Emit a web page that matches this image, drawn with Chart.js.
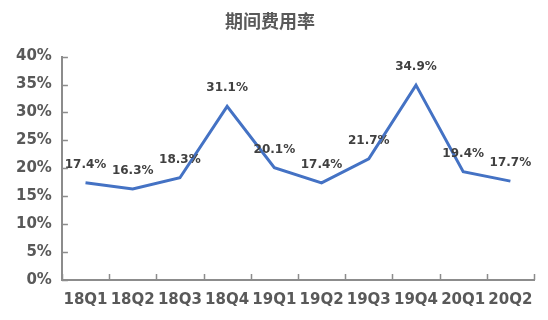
<!DOCTYPE html>
<html>
<head>
<meta charset="utf-8">
<script src="https://cdn.jsdelivr.net/npm/chart.js@4/dist/chart.umd.min.js"></script>
<style>
  html, body { margin: 0; padding: 0; background: #fff; }
  #wrap { width: 548px; height: 320px; }
</style>
</head>
<body>
<div id="wrap"><canvas id="myChart"></canvas></div>
<script>
const quarters = ['18Q1', '18Q2', '18Q3', '18Q4', '19Q1', '19Q2', '19Q3', '19Q4', '20Q1', '20Q2'];
const expenseRate = [17.4, 16.3, 18.3, 31.1, 20.1, 17.4, 21.7, 34.9, 19.4, 17.7];
const yTicks = [0, 5, 10, 15, 20, 25, 30, 35, 40];

const axisColor = '#8c8c8c';
const textColor = '#595959';

// labels above each point
const valueLabels = {
  id: 'valueLabels',
  afterDatasetsDraw(chart) {
    const c = chart.ctx;
    const meta = chart.getDatasetMeta(0);
    c.save();
    c.font = 'bold 12px "DejaVu Sans", sans-serif';
    c.fillStyle = '#404040';
    c.textAlign = 'center';
    c.textBaseline = 'middle';
    meta.data.forEach((pt, i) => {
      c.fillText(expenseRate[i].toFixed(1) + '%', pt.x, pt.y - 18);
    });
    c.restore();
  }
};

// inward tick marks like the original
const innerTicks = {
  id: 'innerTicks',
  afterDraw(chart) {
    const c = chart.ctx;
    const y = chart.scales.y;
    const a = chart.chartArea;
    c.save();
    c.strokeStyle = axisColor;
    c.lineWidth = 1.5;
    c.beginPath();
    y.ticks.forEach((t) => {
      const py = Math.round(y.getPixelForValue(t.value)) + 0.5;
      c.moveTo(a.left, py);
      c.lineTo(a.left + 6, py);
    });
    for (let i = 0; i <= quarters.length; i++) {
      const px = Math.round(a.left + (a.right - a.left) * i / quarters.length) + 0.5;
      c.moveTo(px, a.bottom);
      c.lineTo(px, a.bottom - 6);
    }
    c.stroke();
    c.restore();
  }
};

const chart = new Chart(document.getElementById('myChart'), {
  type: 'line',
  data: {
    labels: quarters,
    datasets: [{
      data: expenseRate,
      borderColor: '#4472C4',
      borderWidth: 3,
      pointRadius: 0,
      tension: 0,
      fill: false
    }]
  },
  options: {
    responsive: true,
    maintainAspectRatio: false,
    animation: false,
    layout: { padding: { left: 6, right: 14, top: 0, bottom: 0 } },
    plugins: {
      legend: { display: false },
      tooltip: { enabled: false },
      title: {
        display: true,
        text: '期间费用率',
        color: textColor,
        font: { size: 18, weight: 'bold', family: '"Noto Sans CJK SC", sans-serif' },
        padding: { top: 10, bottom: 25 }
      }
    },
    scales: {
      x: {
        offset: true,
        grid: { display: false, drawTicks: false },
        border: { display: true, color: axisColor, width: 2 },
        ticks: {
          color: textColor,
          padding: 11,
          maxRotation: 0,
          autoSkip: false,
          font: { size: 15, weight: 'bold', family: '"DejaVu Sans", sans-serif' }
        }
      },
      y: {
        min: 0,
        max: 40,
        afterBuildTicks: (s) => { s.ticks = yTicks.map(v => ({ value: v })); },
        grid: { display: false, drawTicks: false },
        border: { display: true, color: axisColor, width: 2 },
        ticks: {
          color: textColor,
          padding: 10,
          callback: (v) => v + '%',
          font: { size: 15, weight: 'bold', family: '"DejaVu Sans", sans-serif' }
        }
      }
    }
  },
  plugins: [valueLabels, innerTicks]
});
</script>
</body>
</html>
